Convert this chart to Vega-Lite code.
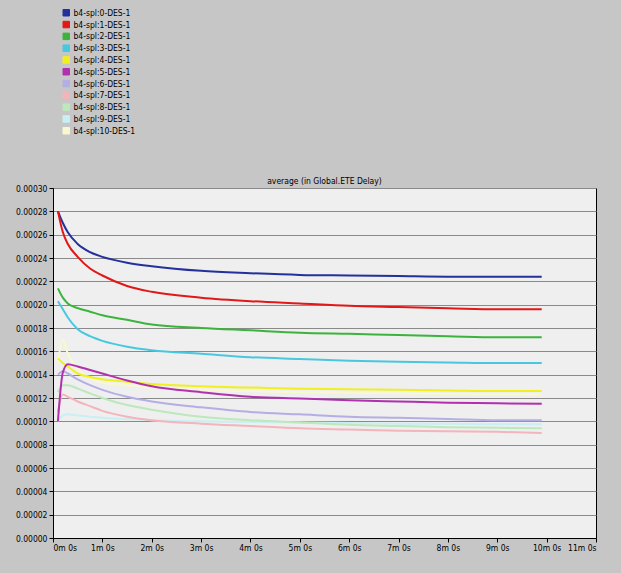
{
  "$schema": "https://vega.github.io/schema/vega-lite/v6.json",
  "width": 543,
  "height": 350,
  "autosize": {"type": "none"},
  "padding": {"left": 53, "top": 188, "right": 25, "bottom": 35},
  "background": "#c6c6c6",
  "config": {
    "view": {"fill": "#efefef", "stroke": "#000000", "strokeWidth": 1},
    "font": "'DejaVu Sans Condensed', 'Liberation Sans', sans-serif",
    "axis": {"labelFont": "'DejaVu Sans Condensed', 'Liberation Sans', sans-serif", "labelFontSize": 8.5, "labelColor": "#000", "domainColor": "#000", "tickColor": "#000", "tickSize": 4, "title": null},
    "title": {"font": "'DejaVu Sans Condensed', 'Liberation Sans', sans-serif", "fontSize": 8.5, "fontWeight": "normal", "color": "#000", "offset": 3}
  },
  "title": {"text": "average (in Global.ETE Delay)", "anchor": "middle", "dy": 180},
  "data": {"values": [
    {"s":"b4-spl:10-DES-1","t":0.1,"v":0.000150},{"s":"b4-spl:10-DES-1","t":0.2,"v":0.000170},{"s":"b4-spl:10-DES-1","t":0.3,"v":0.000158},{"s":"b4-spl:10-DES-1","t":0.5,"v":0.000145},{"s":"b4-spl:10-DES-1","t":0.75,"v":0.000137},{"s":"b4-spl:10-DES-1","t":1,"v":0.000133},{"s":"b4-spl:10-DES-1","t":1.5,"v":0.000131},{"s":"b4-spl:10-DES-1","t":2,"v":0.000129},{"s":"b4-spl:10-DES-1","t":3,"v":0.000127},{"s":"b4-spl:10-DES-1","t":4,"v":0.000126},{"s":"b4-spl:10-DES-1","t":5,"v":0.000125},{"s":"b4-spl:10-DES-1","t":6,"v":0.0001245},{"s":"b4-spl:10-DES-1","t":7,"v":0.000124},{"s":"b4-spl:10-DES-1","t":8,"v":0.0001235},{"s":"b4-spl:10-DES-1","t":9,"v":0.000123},{"s":"b4-spl:10-DES-1","t":9.9,"v":0.000123},
    {"s":"b4-spl:9-DES-1","t":0.1,"v":0.000100},{"s":"b4-spl:9-DES-1","t":0.2,"v":0.000105},{"s":"b4-spl:9-DES-1","t":0.3,"v":0.000106},{"s":"b4-spl:9-DES-1","t":0.5,"v":0.000105},{"s":"b4-spl:9-DES-1","t":0.75,"v":0.000104},{"s":"b4-spl:9-DES-1","t":1,"v":0.000103},{"s":"b4-spl:9-DES-1","t":1.5,"v":0.000102},{"s":"b4-spl:9-DES-1","t":2,"v":0.000101},{"s":"b4-spl:9-DES-1","t":3,"v":0.000100},{"s":"b4-spl:9-DES-1","t":4,"v":0.0000995},{"s":"b4-spl:9-DES-1","t":5,"v":0.000099},{"s":"b4-spl:9-DES-1","t":6,"v":0.0000985},{"s":"b4-spl:9-DES-1","t":7,"v":0.000098},{"s":"b4-spl:9-DES-1","t":8,"v":0.000098},{"s":"b4-spl:9-DES-1","t":9,"v":0.0000975},{"s":"b4-spl:9-DES-1","t":9.9,"v":0.0000975},
    {"s":"b4-spl:0-DES-1","t":0.1,"v":0.000280},{"s":"b4-spl:0-DES-1","t":0.2,"v":0.000270},{"s":"b4-spl:0-DES-1","t":0.3,"v":0.000262},{"s":"b4-spl:0-DES-1","t":0.5,"v":0.000252},{"s":"b4-spl:0-DES-1","t":0.75,"v":0.000245},{"s":"b4-spl:0-DES-1","t":1,"v":0.000241},{"s":"b4-spl:0-DES-1","t":1.5,"v":0.000236},{"s":"b4-spl:0-DES-1","t":2,"v":0.000233},{"s":"b4-spl:0-DES-1","t":3,"v":0.000229},{"s":"b4-spl:0-DES-1","t":4,"v":0.000227},{"s":"b4-spl:0-DES-1","t":5,"v":0.0002255},{"s":"b4-spl:0-DES-1","t":6,"v":0.000225},{"s":"b4-spl:0-DES-1","t":7,"v":0.0002245},{"s":"b4-spl:0-DES-1","t":8,"v":0.000224},{"s":"b4-spl:0-DES-1","t":9,"v":0.000224},{"s":"b4-spl:0-DES-1","t":9.9,"v":0.000224},
    {"s":"b4-spl:1-DES-1","t":0.1,"v":0.000280},{"s":"b4-spl:1-DES-1","t":0.2,"v":0.000262},{"s":"b4-spl:1-DES-1","t":0.3,"v":0.000252},{"s":"b4-spl:1-DES-1","t":0.5,"v":0.000241},{"s":"b4-spl:1-DES-1","t":0.75,"v":0.000231},{"s":"b4-spl:1-DES-1","t":1,"v":0.000225},{"s":"b4-spl:1-DES-1","t":1.5,"v":0.000216},{"s":"b4-spl:1-DES-1","t":2,"v":0.000211},{"s":"b4-spl:1-DES-1","t":3,"v":0.000206},{"s":"b4-spl:1-DES-1","t":4,"v":0.000203},{"s":"b4-spl:1-DES-1","t":5,"v":0.000201},{"s":"b4-spl:1-DES-1","t":6,"v":0.000199},{"s":"b4-spl:1-DES-1","t":7,"v":0.000198},{"s":"b4-spl:1-DES-1","t":8,"v":0.000197},{"s":"b4-spl:1-DES-1","t":9,"v":0.000196},{"s":"b4-spl:1-DES-1","t":9.9,"v":0.000196},
    {"s":"b4-spl:2-DES-1","t":0.1,"v":0.000214},{"s":"b4-spl:2-DES-1","t":0.2,"v":0.000206},{"s":"b4-spl:2-DES-1","t":0.3,"v":0.000201},{"s":"b4-spl:2-DES-1","t":0.5,"v":0.000197},{"s":"b4-spl:2-DES-1","t":0.75,"v":0.000194},{"s":"b4-spl:2-DES-1","t":1,"v":0.000191},{"s":"b4-spl:2-DES-1","t":1.5,"v":0.000187},{"s":"b4-spl:2-DES-1","t":2,"v":0.000183},{"s":"b4-spl:2-DES-1","t":3,"v":0.000180},{"s":"b4-spl:2-DES-1","t":4,"v":0.000178},{"s":"b4-spl:2-DES-1","t":5,"v":0.000176},{"s":"b4-spl:2-DES-1","t":6,"v":0.000175},{"s":"b4-spl:2-DES-1","t":7,"v":0.000174},{"s":"b4-spl:2-DES-1","t":8,"v":0.000173},{"s":"b4-spl:2-DES-1","t":9,"v":0.000172},{"s":"b4-spl:2-DES-1","t":9.9,"v":0.000172},
    {"s":"b4-spl:3-DES-1","t":0.1,"v":0.000203},{"s":"b4-spl:3-DES-1","t":0.2,"v":0.000196},{"s":"b4-spl:3-DES-1","t":0.3,"v":0.000189},{"s":"b4-spl:3-DES-1","t":0.5,"v":0.000179},{"s":"b4-spl:3-DES-1","t":0.75,"v":0.000173},{"s":"b4-spl:3-DES-1","t":1,"v":0.000169},{"s":"b4-spl:3-DES-1","t":1.5,"v":0.000164},{"s":"b4-spl:3-DES-1","t":2,"v":0.000161},{"s":"b4-spl:3-DES-1","t":3,"v":0.000158},{"s":"b4-spl:3-DES-1","t":4,"v":0.000155},{"s":"b4-spl:3-DES-1","t":5,"v":0.0001535},{"s":"b4-spl:3-DES-1","t":6,"v":0.000152},{"s":"b4-spl:3-DES-1","t":7,"v":0.000151},{"s":"b4-spl:3-DES-1","t":8,"v":0.0001505},{"s":"b4-spl:3-DES-1","t":9,"v":0.000150},{"s":"b4-spl:3-DES-1","t":9.9,"v":0.000150},
    {"s":"b4-spl:4-DES-1","t":0.1,"v":0.000154},{"s":"b4-spl:4-DES-1","t":0.2,"v":0.000150},{"s":"b4-spl:4-DES-1","t":0.3,"v":0.000147},{"s":"b4-spl:4-DES-1","t":0.5,"v":0.000141},{"s":"b4-spl:4-DES-1","t":0.75,"v":0.000138},{"s":"b4-spl:4-DES-1","t":1,"v":0.000136},{"s":"b4-spl:4-DES-1","t":1.5,"v":0.000134},{"s":"b4-spl:4-DES-1","t":2,"v":0.000132},{"s":"b4-spl:4-DES-1","t":3,"v":0.000130},{"s":"b4-spl:4-DES-1","t":4,"v":0.000129},{"s":"b4-spl:4-DES-1","t":5,"v":0.000128},{"s":"b4-spl:4-DES-1","t":6,"v":0.0001275},{"s":"b4-spl:4-DES-1","t":7,"v":0.000127},{"s":"b4-spl:4-DES-1","t":8,"v":0.0001265},{"s":"b4-spl:4-DES-1","t":9,"v":0.000126},{"s":"b4-spl:4-DES-1","t":9.9,"v":0.000126},
    {"s":"b4-spl:6-DES-1","t":0.1,"v":0.000140},{"s":"b4-spl:6-DES-1","t":0.2,"v":0.000143},{"s":"b4-spl:6-DES-1","t":0.3,"v":0.000141},{"s":"b4-spl:6-DES-1","t":0.5,"v":0.000136},{"s":"b4-spl:6-DES-1","t":0.75,"v":0.000131},{"s":"b4-spl:6-DES-1","t":1,"v":0.000127},{"s":"b4-spl:6-DES-1","t":1.5,"v":0.000121},{"s":"b4-spl:6-DES-1","t":2,"v":0.000117},{"s":"b4-spl:6-DES-1","t":3,"v":0.000112},{"s":"b4-spl:6-DES-1","t":4,"v":0.000108},{"s":"b4-spl:6-DES-1","t":5,"v":0.000106},{"s":"b4-spl:6-DES-1","t":6,"v":0.000104},{"s":"b4-spl:6-DES-1","t":7,"v":0.000103},{"s":"b4-spl:6-DES-1","t":8,"v":0.000102},{"s":"b4-spl:6-DES-1","t":9,"v":0.000101},{"s":"b4-spl:6-DES-1","t":9.9,"v":0.000101},
    {"s":"b4-spl:7-DES-1","t":0.1,"v":0.000108},{"s":"b4-spl:7-DES-1","t":0.2,"v":0.000123},{"s":"b4-spl:7-DES-1","t":0.3,"v":0.000121},{"s":"b4-spl:7-DES-1","t":0.5,"v":0.000117},{"s":"b4-spl:7-DES-1","t":0.75,"v":0.000113},{"s":"b4-spl:7-DES-1","t":1,"v":0.000109},{"s":"b4-spl:7-DES-1","t":1.5,"v":0.000104},{"s":"b4-spl:7-DES-1","t":2,"v":0.000101},{"s":"b4-spl:7-DES-1","t":3,"v":0.000098},{"s":"b4-spl:7-DES-1","t":4,"v":0.000096},{"s":"b4-spl:7-DES-1","t":5,"v":0.000094},{"s":"b4-spl:7-DES-1","t":6,"v":0.000093},{"s":"b4-spl:7-DES-1","t":7,"v":0.000092},{"s":"b4-spl:7-DES-1","t":8,"v":0.0000915},{"s":"b4-spl:7-DES-1","t":9,"v":0.000091},{"s":"b4-spl:7-DES-1","t":9.9,"v":0.000090},
    {"s":"b4-spl:8-DES-1","t":0.1,"v":0.000125},{"s":"b4-spl:8-DES-1","t":0.2,"v":0.000131},{"s":"b4-spl:8-DES-1","t":0.3,"v":0.000131},{"s":"b4-spl:8-DES-1","t":0.5,"v":0.000128},{"s":"b4-spl:8-DES-1","t":0.75,"v":0.000124},{"s":"b4-spl:8-DES-1","t":1,"v":0.000120},{"s":"b4-spl:8-DES-1","t":1.5,"v":0.000114},{"s":"b4-spl:8-DES-1","t":2,"v":0.000110},{"s":"b4-spl:8-DES-1","t":3,"v":0.000104},{"s":"b4-spl:8-DES-1","t":4,"v":0.000101},{"s":"b4-spl:8-DES-1","t":5,"v":0.000099},{"s":"b4-spl:8-DES-1","t":6,"v":0.000097},{"s":"b4-spl:8-DES-1","t":7,"v":0.000096},{"s":"b4-spl:8-DES-1","t":8,"v":0.000095},{"s":"b4-spl:8-DES-1","t":9,"v":0.0000945},{"s":"b4-spl:8-DES-1","t":9.9,"v":0.000094},
    {"s":"b4-spl:5-DES-1","t":0.1,"v":0.000100},{"s":"b4-spl:5-DES-1","t":0.2,"v":0.000142},{"s":"b4-spl:5-DES-1","t":0.3,"v":0.000149},{"s":"b4-spl:5-DES-1","t":0.5,"v":0.000147},{"s":"b4-spl:5-DES-1","t":0.75,"v":0.000144},{"s":"b4-spl:5-DES-1","t":1,"v":0.000141},{"s":"b4-spl:5-DES-1","t":1.5,"v":0.000135},{"s":"b4-spl:5-DES-1","t":2,"v":0.000130},{"s":"b4-spl:5-DES-1","t":3,"v":0.000125},{"s":"b4-spl:5-DES-1","t":4,"v":0.000121},{"s":"b4-spl:5-DES-1","t":5,"v":0.0001195},{"s":"b4-spl:5-DES-1","t":6,"v":0.000118},{"s":"b4-spl:5-DES-1","t":7,"v":0.000117},{"s":"b4-spl:5-DES-1","t":8,"v":0.000116},{"s":"b4-spl:5-DES-1","t":9,"v":0.0001155},{"s":"b4-spl:5-DES-1","t":9.9,"v":0.000115}
  ]},
  "mark": {"type": "line", "strokeWidth": 2, "interpolate": "monotone"},
  "encoding": {
    "x": {"field": "t", "type": "quantitative", "scale": {"domain": [0, 11], "nice": false},
      "axis": {"values": [0,1,2,3,4,5,6,7,8,9,10,11], "labelExpr": "datum.value + 'm 0s'", "grid": false, "labelPadding": 1}},
    "y": {"field": "v", "type": "quantitative", "scale": {"domain": [0, 0.0003], "nice": false},
      "axis": {"values": [0,0.00002,0.00004,0.00006,0.00008,0.0001,0.00012,0.00014,0.00016,0.00018,0.0002,0.00022,0.00024,0.00026,0.00028,0.0003], "format": ".5f", "grid": true, "gridColor": "#8a8a8a", "gridOpacity": 1, "gridWidth": 1.2, "labelPadding": 2}},
    "color": {"field": "s", "type": "nominal",
      "scale": {"domain": ["b4-spl:0-DES-1","b4-spl:1-DES-1","b4-spl:2-DES-1","b4-spl:3-DES-1","b4-spl:4-DES-1","b4-spl:5-DES-1","b4-spl:6-DES-1","b4-spl:7-DES-1","b4-spl:8-DES-1","b4-spl:9-DES-1","b4-spl:10-DES-1"],
        "range": ["#24309c","#e01818","#3cb43c","#48c8e0","#f0f020","#b030b0","#b4aee4","#f4b4bc","#bce8bc","#c8f0f4","#f8f8d0"]},
      "legend": {"title": null, "orient": "none", "legendX": 9, "legendY": -179.5, "symbolType": "square", "symbolSize": 42, "symbolStrokeWidth": 1, "labelFontSize": 8.5, "labelFont": "'DejaVu Sans Condensed', 'Liberation Sans', sans-serif", "labelColor": "#000", "rowPadding": 0.8, "labelOffset": 3, "symbolOffset": 0,
        "encode": {"symbols": {"update": {"fill": {"scale": "color", "field": "value"}, "stroke": {"value": "#333333"}, "strokeWidth": {"value": 1}, "opacity": {"value": 1}}}}}}
  }
}
